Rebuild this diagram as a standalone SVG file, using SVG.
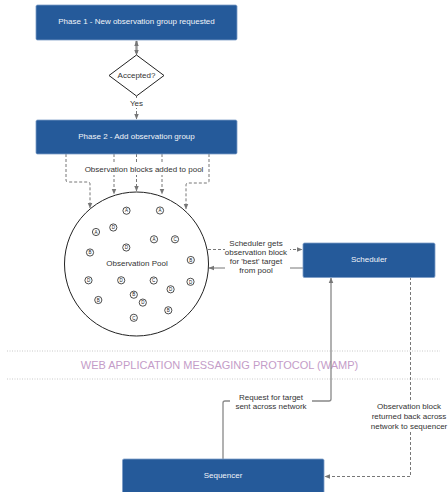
<svg xmlns="http://www.w3.org/2000/svg" width="448" height="492" viewBox="0 0 448 492">
<style>
.box{fill:#255a9a;stroke:#7b9cc7;stroke-width:0.8}
.bt{font-family:"Liberation Sans",Arial,sans-serif;font-size:8px;fill:#f1f4f9;text-anchor:middle;dominant-baseline:central}
.t{font-family:"Liberation Sans",Arial,sans-serif;font-size:8px;fill:#333;text-anchor:middle;dominant-baseline:central}
.c{fill:none;stroke:#777;stroke-width:1}
.d{fill:none;stroke:#777;stroke-width:1;stroke-dasharray:3,2}
.dot{fill:#fff;stroke:#222;stroke-width:0.8}
.lt{font-family:"Liberation Sans",Arial,sans-serif;font-size:4.5px;fill:#222;text-anchor:middle;dominant-baseline:central}
.band{stroke:#bbb;stroke-width:0.8;stroke-dasharray:1,1.5}
</style>
<defs>
<marker id="ah" viewBox="0 0 10 10" refX="9" refY="5" markerWidth="6" markerHeight="6" orient="auto-start-reverse" markerUnits="userSpaceOnUse">
<path d="M0,1 L10,5 L0,9 z" fill="#777"/>
</marker>
</defs>
<rect width="448" height="492" fill="#fff"/>

<g id="wamp">
<line class="band" x1="7" y1="351" x2="440" y2="351"/>
<line class="band" x1="7" y1="379" x2="440" y2="379"/>
<text x="219.5" y="365" font-family="Liberation Sans,Arial,sans-serif" font-size="11" fill="#c49cc8" text-anchor="middle" dominant-baseline="central">WEB APPLICATION MESSAGING PROTOCOL (WAMP)</text>
</g>

<g id="connectors">
<line x1="136.5" y1="53" x2="136.5" y2="41" stroke="#777" stroke-width="2" marker-end="url(#ah)"/>
<line x1="136.5" y1="46" x2="136.5" y2="55" stroke="#999" stroke-width="1" marker-end="url(#ah)"/>
<line class="d" x1="136.5" y1="96" x2="136.5" y2="119" marker-end="url(#ah)"/>
<rect x="126" y="98" width="21" height="10" fill="#fff"/>
<text class="t" x="136.5" y="103">Yes</text>

<path class="d" d="M66,154 V180 Q66,182 68,182 H88 Q90,182 90,184 V208" marker-end="url(#ah)"/>
<path class="d" d="M114,154 V194" marker-end="url(#ah)"/>
<path class="d" d="M136.5,154 V191" marker-end="url(#ah)"/>
<path class="d" d="M162,154 V194" marker-end="url(#ah)"/>
<path class="d" d="M209,154 V181 Q209,183 207,183 H188 Q186,183 186,185 V209" marker-end="url(#ah)"/>
<rect x="84" y="163" width="120" height="12" fill="#fff"/>
<text class="t" x="144" y="169">Observation blocks added to pool</text>

<path class="d" d="M208,249.5 H302" marker-end="url(#ah)"/>
<path class="c" d="M303,268 H209" marker-end="url(#ah)"/>
<rect x="225" y="238" width="65" height="38" fill="#fff"/>
<text class="t" x="256" y="243.5">Scheduler gets</text>
<text class="t" x="256" y="252.5">observation block</text>
<text class="t" x="256" y="261.5">for 'best' target</text>
<text class="t" x="256" y="270.5">from pool</text>

<path d="M223,459 V403 Q223,401 225,401 H329 Q331,401 331,399 V278" fill="none" stroke="#888" stroke-width="1.3" marker-end="url(#ah)"/>
<rect x="230" y="391" width="82" height="21" fill="#fff"/>
<text class="t" x="271" y="397">Request for target</text>
<text class="t" x="271" y="406.5">sent across network</text>

<path class="d" d="M410.5,277 V476.5 H325" marker-end="url(#ah)"/>
<rect x="370" y="400" width="78" height="32" fill="#fff"/>
<text class="t" x="409" y="406.5">Observation block</text>
<text class="t" x="409" y="416.5">returned back across</text>
<text class="t" x="409" y="426">network to sequencer</text>
</g>

<g id="phase1">
<rect class="box" x="36" y="5" width="201" height="35" rx="1.5"/>
<text class="bt" x="136.5" y="21.5">Phase 1 - New observation group requested</text>
</g>

<g id="accepted">
<path d="M136.5,55 L164,75.5 L136.5,96 L109,75.5 Z" fill="#fff" stroke="#222" stroke-width="1"/>
<text class="t" x="136.5" y="75">Accepted?</text>
</g>

<g id="phase2">
<rect class="box" x="36" y="120" width="201" height="34" rx="1.5"/>
<text class="bt" x="136.5" y="136.5">Phase 2 - Add observation group</text>
</g>

<g id="pool">
<circle cx="136.5" cy="264" r="72" fill="#fff" stroke="#222" stroke-width="1"/>
<text class="t" x="137" y="263">Observation Pool</text>
<g>
<circle class="dot" cx="126.5" cy="210.7" r="3.6"/><text class="lt" x="126.5" y="210.9">A</text>
<circle class="dot" cx="160" cy="210.5" r="3.6"/><text class="lt" x="160" y="210.7">A</text>
<circle class="dot" cx="96" cy="232" r="3.6"/><text class="lt" x="96" y="232.2">A</text>
<circle class="dot" cx="113.3" cy="227.5" r="3.6"/><text class="lt" x="113.3" y="227.7">D</text>
<circle class="dot" cx="154" cy="239.3" r="3.6"/><text class="lt" x="154" y="239.5">A</text>
<circle class="dot" cx="175" cy="239.3" r="3.6"/><text class="lt" x="175" y="239.5">C</text>
<circle class="dot" cx="126.3" cy="247.5" r="3.6"/><text class="lt" x="126.3" y="247.7">D</text>
<circle class="dot" cx="90" cy="252.5" r="3.6"/><text class="lt" x="90" y="252.7">B</text>
<circle class="dot" cx="190.8" cy="260" r="3.6"/><text class="lt" x="190.8" y="260.2">B</text>
<circle class="dot" cx="88.5" cy="280.3" r="3.6"/><text class="lt" x="88.5" y="280.5">D</text>
<circle class="dot" cx="121.2" cy="280.3" r="3.6"/><text class="lt" x="121.2" y="280.5">D</text>
<circle class="dot" cx="153.7" cy="280.5" r="3.6"/><text class="lt" x="153.7" y="280.7">C</text>
<circle class="dot" cx="190.5" cy="281.8" r="3.6"/><text class="lt" x="190.5" y="282">D</text>
<circle class="dot" cx="170.6" cy="289.3" r="3.6"/><text class="lt" x="170.6" y="289.5">D</text>
<circle class="dot" cx="133.8" cy="294.7" r="3.6"/><text class="lt" x="133.8" y="294.9">B</text>
<circle class="dot" cx="142.8" cy="302.6" r="3.6"/><text class="lt" x="142.8" y="302.8">D</text>
<circle class="dot" cx="98.3" cy="300" r="3.6"/><text class="lt" x="98.3" y="300.2">B</text>
<circle class="dot" cx="168.3" cy="310.3" r="3.6"/><text class="lt" x="168.3" y="310.5">B</text>
<circle class="dot" cx="133.8" cy="317.8" r="3.6"/><text class="lt" x="133.8" y="318">C</text>
</g>
</g>

<g id="scheduler">
<rect class="box" x="303" y="243" width="132" height="34.5" rx="1.5"/>
<text class="bt" x="369" y="259.5">Scheduler</text>
</g>

<g id="sequencer">
<rect class="box" x="122.5" y="459" width="201.5" height="36" rx="1.5"/>
<text class="bt" x="223" y="475.5">Sequencer</text>
</g>
</svg>
